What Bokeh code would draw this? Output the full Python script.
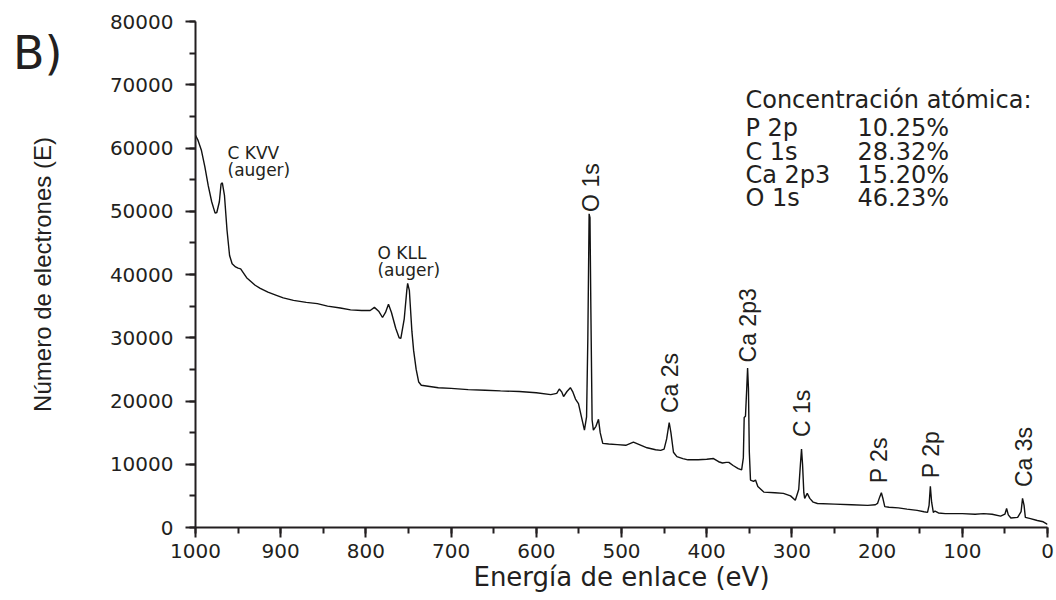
import math
from bokeh.plotting import figure
from bokeh.models import (Range1d, SingleIntervalTicker, FixedTicker, LinearAxis, Label,
                          NumeralTickFormatter, ColumnDataSource)
from bokeh.embed import file_html
from bokeh.resources import INLINE
from bokeh.core.properties import value

# ---- XPS survey spectrum ----
energy_ev = [
    1000, 997, 993, 989, 985, 981, 977, 975, 972, 970, 968.5, 966, 963, 960, 957, 953, 950, 947, 944, 940,
    935, 930, 924, 915, 905, 897, 885, 870, 857, 845, 830, 818, 805, 795, 790, 785, 780.5, 777, 773.5, 770,
    765, 761, 759, 755, 752, 751, 749, 746, 744, 741, 738, 735, 725, 715, 700, 680, 660, 642, 620, 600,
    583, 576, 573, 570, 568, 564, 560, 557, 554, 550.5, 547, 543.5, 541, 539.5, 538, 537, 536, 534.5, 533, 530,
    527, 525, 522, 515, 505, 495, 486, 470, 460, 454, 450, 447, 444, 442, 439, 435, 428, 422, 410, 400,
    392, 386, 381.5, 377, 374, 369, 363, 359, 357, 356, 354.5, 353, 352, 351, 350, 348.6, 345, 342.7, 340, 333,
    320, 310, 301.6, 296, 292, 290, 288.7, 287.5, 286, 285, 282, 279, 275, 270, 250, 230, 211, 202, 199.5, 197,
    195, 193, 191, 186, 175, 165, 153, 145, 140.8, 139, 137.5, 136, 134, 132, 128, 120, 100, 85, 75, 65,
    55, 50, 48, 46, 43, 35, 31, 29.3, 27.5, 26, 20, 12, 5, 0,
]
counts = [
    62000, 61200, 59600, 57000, 54000, 51500, 49700, 49800, 51500, 54300, 54500, 52500, 47000, 43000, 41700, 41200, 41000, 40900, 40300, 39500,
    38900, 38300, 37800, 37200, 36700, 36300, 35900, 35600, 35400, 35000, 34700, 34400, 34300, 34300, 34800, 34200, 33200, 34000, 35300, 34000,
    31500, 30000, 29900, 33000, 37500, 38600, 37500, 31000, 28000, 25000, 23000, 22500, 22300, 22100, 22000, 21800, 21700, 21600, 21500, 21300,
    21000, 21200, 21900, 21400, 20700, 21500, 22100, 21400, 20300, 19600, 17500, 15400, 17500, 30000, 49600, 49000, 35000, 17000, 15400, 16000,
    17100, 15000, 13300, 13200, 13100, 13000, 13500, 12600, 12300, 12200, 12400, 14000, 16600, 15000, 11900, 11200, 10900, 10700, 10700, 10800,
    10900, 10400, 10200, 10300, 10300, 9800, 9300, 9100, 11000, 17400, 17600, 22000, 25200, 22000, 12000, 7500, 7300, 7500, 6500, 5600,
    5500, 5400, 5000, 4300, 6000, 10000, 12400, 10000, 5500, 4600, 5400, 4600, 4000, 3800, 3700, 3600, 3500, 3600, 3800, 4800,
    5500, 4500, 3300, 3200, 3100, 2900, 2700, 2500, 2400, 3500, 6500, 4000, 2400, 2600, 2300, 2200, 2200, 2100, 2200, 2100,
    1800, 2100, 3000, 2000, 1500, 1600, 2500, 4600, 3500, 1600, 1400, 1100, 900, 500,
]

# ---- peak annotations ----
peak_names = ["O 1s", "Ca 2s", "Ca 2p3", "C 1s", "P 2s", "P 2p", "Ca 3s"]
peak_label_ev = [536, 442.5, 352, 288.7, 198, 137, 28]
peak_label_counts = [49900, 18100, 26100, 14300, 7000, 7800, 6400]

auger_names = ["C KVV", "O KLL"]
auger_sub = "(auger)"
auger_label_ev = [962.4, 786.4]
auger_label_counts = [59160, 43370]
auger_sub_counts = [56480, 40680]

# ---- atomic concentration table ----
conc_title = "Concentración atómica:"
conc_species = ["P 2p", "C 1s", "Ca 2p3", "O 1s"]
conc_values = ["10.25%", "28.32%", "15.20%", "46.23%"]

x_title = "Energía de enlace (eV)"
y_title = "Número de electrones (E)"
panel_tag = "B)"
panel_tag_level = 75000

INK = "#231f20"
TXT_FONT = "DejaVu Sans"
ROT_FONT = "Liberation Sans"

p = figure(
    width=1054, height=598,
    x_range=Range1d(1000, 0), y_range=Range1d(0, 80000),
    output_backend="svg", toolbar_location=None,
    min_border_left=195, min_border_right=7, min_border_top=21, min_border_bottom=71,
)
p.outline_line_color = None
p.grid.visible = False
p.background_fill_color = "white"
p.border_fill_color = "white"

p.xaxis.ticker = SingleIntervalTicker(interval=100, num_minor_ticks=2)
p.yaxis.ticker = SingleIntervalTicker(interval=10000, num_minor_ticks=2)
p.yaxis.formatter = NumeralTickFormatter(format="0")
for ax in (p.xaxis, p.yaxis):
    ax.axis_line_color = INK
    ax.axis_line_width = 2
    ax.major_tick_line_color = INK
    ax.major_tick_line_width = 2
    ax.minor_tick_line_color = INK
    ax.minor_tick_line_width = 2
    ax.major_tick_out = 10
    ax.major_tick_in = 0
    ax.minor_tick_out = 6
    ax.minor_tick_in = 0
    ax.major_label_text_font = TXT_FONT
    ax.major_label_text_font_size = "20px"
    ax.major_label_text_color = INK
    ax.axis_label_text_font_style = "normal"
    ax.axis_label_text_color = INK
p.xaxis.major_label_standoff = 6
p.yaxis.major_label_standoff = 12

p.xaxis.axis_label = x_title
p.xaxis.axis_label_text_font = TXT_FONT
p.xaxis.axis_label_text_font_size = "26px"
p.xaxis.axis_label_standoff = 1

p.yaxis.axis_label = y_title
p.yaxis.axis_label_text_font = ROT_FONT
p.yaxis.axis_label_text_font_size = "24px"
p.yaxis.axis_label_standoff = 51

# panel tag "B)" drawn as the single label of an extra, line-less left axis
tag_axis = LinearAxis(
    ticker=FixedTicker(ticks=[panel_tag_level]),
    major_label_overrides={panel_tag_level: panel_tag},
    axis_line_color=None, major_tick_line_color=None, minor_tick_line_color=None,
    major_tick_out=0, major_tick_in=0, minor_tick_out=0, minor_tick_in=0,
    major_label_text_font=TXT_FONT, major_label_text_font_size="46px",
    major_label_text_color=INK, major_label_standoff=-37,
)
p.add_layout(tag_axis, "left")

src = ColumnDataSource(dict(e=energy_ev, c=counts))
p.line("e", "c", source=src, line_color="#111111", line_width=1.4)

psrc = ColumnDataSource(dict(x=peak_label_ev, y=peak_label_counts, t=peak_names))
p.text("x", "y", text="t", source=psrc, angle=math.pi / 2,
       text_align="left", text_baseline="middle",
       text_font=value(ROT_FONT), text_font_size="23px", text_color=INK)

for name, ex, cy, cy2 in zip(auger_names, auger_label_ev, auger_label_counts, auger_sub_counts):
    p.add_layout(Label(x=ex, y=cy, text=name, text_font=TXT_FONT, text_font_size="17px",
                       text_color=INK, text_baseline="alphabetic", text_align="left"))
    p.add_layout(Label(x=ex, y=cy2, text=auger_sub, text_font=TXT_FONT, text_font_size="17px",
                       text_color=INK, text_baseline="alphabetic", text_align="left"))

# concentration block
p.add_layout(Label(x=354.5, y=67540, text=conc_title, text_font=TXT_FONT, text_font_size="24px",
                   text_color=INK, text_baseline="alphabetic"))
for i, (sp, val) in enumerate(zip(conc_species, conc_values)):
    yy = 63110 - i * 3680
    p.add_layout(Label(x=354.5, y=yy, text=sp, text_font=TXT_FONT, text_font_size="24px",
                       text_color=INK, text_baseline="alphabetic"))
    p.add_layout(Label(x=223, y=yy, text=val, text_font=TXT_FONT, text_font_size="24px",
                       text_color=INK, text_baseline="alphabetic"))

open("out.html", "w").write(file_html(p, INLINE))
